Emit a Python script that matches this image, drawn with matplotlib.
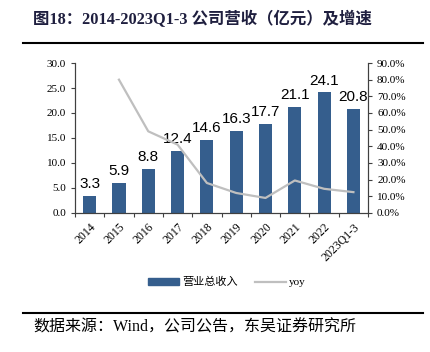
import matplotlib.pyplot as plt
import numpy as np
from matplotlib.lines import Line2D

plt.rcParams["font.family"] = ["Liberation Serif", "Noto Sans CJK SC"]

years = ["2014", "2015", "2016", "2017", "2018", "2019", "2020", "2021", "2022", "2023Q1-3"]
revenue = [3.3, 5.9, 8.8, 12.4, 14.6, 16.3, 17.7, 21.1, 24.1, 20.8]  # 亿元
yoy = [np.nan, 80.0, 49.0, 41.0, 18.0, 12.0, 9.0, 19.5, 14.5, 12.5]  # %

bar_color = "#355E8D"
line_color = "#BFBFBF"
axis_color = "#404040"

fig = plt.figure(figsize=(4.31, 3.52), dpi=100)
ax1 = fig.add_axes([0.174, 0.395, 0.680, 0.426])
ax2 = ax1.twinx()

x = np.arange(len(years))
bars = ax1.bar(x, revenue, width=0.45, color=bar_color, zorder=2)
ax2.plot(x, yoy, color=line_color, lw=1.6, zorder=3)

ax1.set_xlim(-0.5, len(years) - 0.5)
ax1.set_ylim(0, 30)
ax1.set_yticks(np.arange(0, 30.1, 5))
ax1.set_yticklabels([f"{v:.1f}" for v in np.arange(0, 30.1, 5)], fontsize=8)
ax2.set_ylim(0, 90)
ax2.set_yticks(np.arange(0, 90.1, 10))
ax2.set_yticklabels([f"{v:.1f}%" for v in np.arange(0, 90.1, 10)], fontsize=8)

# ticks between categories, labels at the centers
ax1.set_xticks(np.arange(-0.5, len(years)), minor=False)
ax1.set_xticklabels([])
ax1.set_xticks(x, minor=True)
ax1.set_xticklabels(years, minor=True, rotation=45, ha="right", rotation_mode="anchor", fontsize=8.5)
ax1.tick_params(axis="x", which="major", length=3, color=axis_color)
ax1.tick_params(axis="x", which="minor", length=0, pad=6)
ax1.tick_params(axis="y", length=3, color=axis_color)
ax2.tick_params(axis="y", length=3, color=axis_color)

for ax in (ax1, ax2):
    ax.spines["top"].set_visible(False)
    for s in ("left", "right", "bottom"):
        ax.spines[s].set_color(axis_color)
        ax.spines[s].set_linewidth(0.8)

for b, v in zip(bars, revenue):
    ax1.text(b.get_x() + b.get_width() / 2, v + 1.0, f"{v:.1f}", ha="center", va="bottom",
             fontsize=11, family="Liberation Sans", color="#000000")

handles = [
    plt.Rectangle((0, 0), 1, 1, color=bar_color),
    Line2D([0], [0], color=line_color, lw=1.6),
]
fig.legend(handles, ["营业总收入", "yoy"], loc="center", bbox_to_anchor=(0.527, 0.198), ncol=2,
           frameon=False, handlelength=2.8, handleheight=0.6, handletextpad=0.3, columnspacing=1.5,
           prop={"family": ["Liberation Serif", "Noto Sans CJK SC"], "size": 8})

fig.text(0.077, 0.945, "图18：2014-2023Q1-3 公司营收（亿元）及增速", fontsize=11.8, fontweight="bold",
         ha="left", va="center", color="#1F1F3F")
fig.add_artist(Line2D([0.053, 0.981], [0.878, 0.878], color="#000000", lw=1.5))
fig.add_artist(Line2D([0.053, 0.981], [0.111, 0.111], color="#000000", lw=1.5))
fig.text(0.077, 0.071, "数据来源：Wind，公司公告，东吴证券研究所", fontsize=11.5,
         ha="left", va="center", color="#000000")

fig.savefig("out.png", dpi=100)
